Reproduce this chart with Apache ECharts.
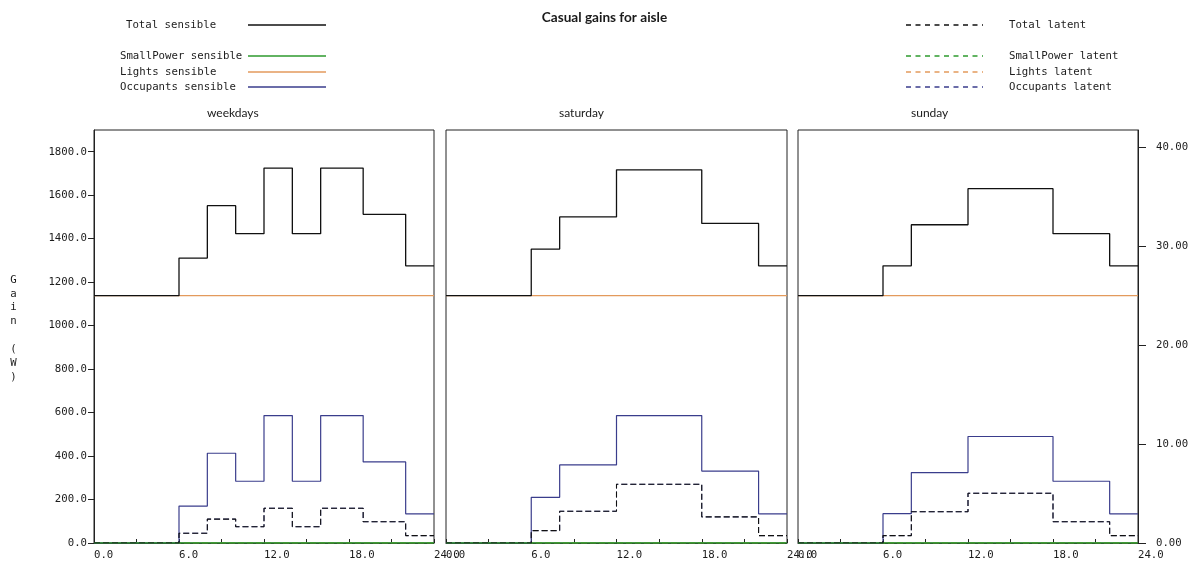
<!DOCTYPE html>
<html><head><meta charset="utf-8">
<script src="https://cdn.jsdelivr.net/npm/echarts@6/dist/echarts.min.js"></script>
<style>html,body{margin:0;padding:0;background:#fff}#c{width:1192px;height:565px}</style>
</head><body><div id="c"></div>
<script>
// ---------- data ----------
const chartTitle = 'Casual gains for aisle';
const dayNames = ['weekdays', 'saturday', 'sunday'];
const yTickValues = [0, 200, 400, 600, 800, 1000, 1200, 1400, 1600, 1800];
const rightTickValues = [0, 10, 20, 30, 40];
const xTickValues = [0, 3, 6, 9, 12, 15, 18, 21, 24];
const xLabelValues = [0, 6, 12, 18, 24];

// period start hours (last entry = end of day)
const weekdayHours = [0, 6, 8, 10, 12, 14, 16, 19, 22, 24];
const weekdayTotalSensible = [1138, 1311, 1552, 1423, 1725, 1423, 1725, 1512, 1275];
const weekdayOccSensible = [0, 170, 413, 284, 586, 284, 586, 373, 134];
const weekdayLightsSensible = [1138, 1138, 1138, 1138, 1138, 1138, 1138, 1138, 1138];
const weekdayPowerSensible = [0, 0, 0, 0, 0, 0, 0, 0, 0];
const weekdayTotalLatent = [0, 45, 110, 75, 160, 75, 160, 98, 34];
const weekdayOccLatent = [0, 45, 110, 75, 160, 75, 160, 98, 34];
const weekdayLightsLatent = [0, 0, 0, 0, 0, 0, 0, 0, 0];
const weekdayPowerLatent = [0, 0, 0, 0, 0, 0, 0, 0, 0];

const saturdayHours = [0, 6, 8, 12, 18, 22, 24];
const saturdayTotalSensible = [1138, 1352, 1500, 1717, 1470, 1275];
const saturdayOccSensible = [0, 210, 359, 586, 331, 134];
const saturdayLightsSensible = [1138, 1138, 1138, 1138, 1138, 1138];
const saturdayPowerSensible = [0, 0, 0, 0, 0, 0];
const saturdayTotalLatent = [0, 57, 146, 270, 120, 34];
const saturdayOccLatent = [0, 57, 146, 270, 120, 34];
const saturdayLightsLatent = [0, 0, 0, 0, 0, 0];
const saturdayPowerLatent = [0, 0, 0, 0, 0, 0];

const sundayHours = [0, 6, 8, 12, 18, 22, 24];
const sundayTotalSensible = [1138, 1275, 1464, 1630, 1423, 1275];
const sundayOccSensible = [0, 135, 324, 490, 284, 134];
const sundayLightsSensible = [1138, 1138, 1138, 1138, 1138, 1138];
const sundayPowerSensible = [0, 0, 0, 0, 0, 0];
const sundayTotalLatent = [0, 34, 144, 229, 98, 34];
const sundayOccLatent = [0, 34, 144, 229, 98, 34];
const sundayLightsLatent = [0, 0, 0, 0, 0, 0];
const sundayPowerLatent = [0, 0, 0, 0, 0, 0];

// ---------- styling ----------
const C_BLACK = '#111111', C_GREEN = '#2e9a2e', C_ORANGE = '#e39a5c', C_NAVY = '#3a3d8c';
const MONO = 'DejaVu Sans Mono';
const TXT = '#1c1c1c';

const days = [
  {hours: weekdayHours, ts: weekdayTotalSensible, os: weekdayOccSensible, ls: weekdayLightsSensible, ps: weekdayPowerSensible,
   tl: weekdayTotalLatent, ol: weekdayOccLatent, ll: weekdayLightsLatent, pl: weekdayPowerLatent},
  {hours: saturdayHours, ts: saturdayTotalSensible, os: saturdayOccSensible, ls: saturdayLightsSensible, ps: saturdayPowerSensible,
   tl: saturdayTotalLatent, ol: saturdayOccLatent, ll: saturdayLightsLatent, pl: saturdayPowerLatent},
  {hours: sundayHours, ts: sundayTotalSensible, os: sundayOccSensible, ls: sundayLightsSensible, ps: sundayPowerSensible,
   tl: sundayTotalLatent, ol: sundayOccLatent, ll: sundayLightsLatent, pl: sundayPowerLatent}
];

function steps(hours, vals) {
  const pts = vals.map((v, i) => [hours[i], v]);
  pts.push([hours[hours.length - 1], vals[vals.length - 1]]);
  return pts;
}

const gridLefts = [94, 446, 798];
const gridWidths = [340, 341, 340];
const grids = gridLefts.map((l, i) => ({
  left: l, width: gridWidths[i], top: 130, bottom: 22,
  show: true, borderColor: '#222', borderWidth: 1, backgroundColor: 'transparent'
}));

const xAxes = [0, 1, 2].map(i => ({
  type: 'value', gridIndex: i, min: 0, max: 24, interval: 3,
  axisLine: {show: true, onZero: false, lineStyle: {color: '#222', width: 1}},
  axisTick: {show: true, inside: true, length: 4, customValues: xTickValues, lineStyle: {color: '#222'}},
  axisLabel: {customValues: xLabelValues, formatter: v => v.toFixed(1), align: 'left', margin: 7,
    fontFamily: MONO, fontSize: 10.7, color: TXT},
  splitLine: {show: false}
}));

const yAxes = [0, 1, 2].map(i => ({
  type: 'value', gridIndex: i, min: 0, max: 1900, interval: 200, position: 'left',
  axisLine: {show: i === 0, lineStyle: {color: '#222'}},
  axisTick: {show: i === 0, length: 6, customValues: yTickValues, lineStyle: {color: '#222'}},
  axisLabel: {show: i === 0, customValues: yTickValues, formatter: v => v.toFixed(1), margin: 7,
    fontFamily: MONO, fontSize: 10.7, color: TXT},
  splitLine: {show: false}
}));
yAxes.push({
  type: 'value', gridIndex: 2, min: 0, max: 41.7, interval: 10, position: 'right',
  axisLine: {show: true, lineStyle: {color: '#222'}},
  axisTick: {show: true, length: 8, customValues: rightTickValues, lineStyle: {color: '#222'}},
  axisLabel: {customValues: rightTickValues, formatter: v => v.toFixed(2), margin: 18,
    fontFamily: MONO, fontSize: 10.7, color: TXT},
  splitLine: {show: false}
});

const series = [];
days.forEach((d, i) => {
  const mk = (name, vals, color, dashed, w) => ({
    name, type: 'line', xAxisIndex: i, yAxisIndex: i, step: 'end', symbol: 'none',
    animation: false, silent: true,
    lineStyle: {color, width: w || 1, type: dashed ? [6, 3] : 'solid'},
    data: steps(d.hours, vals)
  });
  series.push(mk('Lights latent', d.ll, C_ORANGE, true));
  series.push(mk('SmallPower latent', d.pl, C_GREEN, true));
  series.push(mk('Occupants sensible', d.os, C_NAVY, false, 1.2));
  series.push(mk('Occupants latent', d.ol, C_NAVY, true));
  series.push(mk('Lights sensible', d.ls, C_ORANGE, false, 1.4));
  series.push(mk('SmallPower sensible', d.ps, C_GREEN, false, 1.6));
  series.push(mk('Total sensible', d.ts, C_BLACK, false, 1.3));
  series.push(mk('Total latent', d.tl, C_BLACK, true, 1.1));
});

// ---------- legend & labels as graphics ----------
const graphics = [];
function legendLine(x1, x2, y, color, dashed) {
  graphics.push({type: 'line', shape: {x1, y1: y, x2, y2: y}, silent: true,
    style: {stroke: color, lineWidth: 1.3, lineDash: dashed ? [5, 4.5] : null}});
}
function txt(x, y, text, opts) {
  graphics.push({type: 'text', x, y, silent: true, style: Object.assign({
    text, fill: TXT, font: '10.7px "' + MONO + '"', textAlign: 'left', textVerticalAlign: 'middle'}, opts || {})});
}
const leftLegend = [['Total sensible', 126, 25, C_BLACK], ['SmallPower sensible', 120, 56, C_GREEN],
  ['Lights sensible', 120, 72, C_ORANGE], ['Occupants sensible', 120, 87, C_NAVY]];
leftLegend.forEach(([t, x, y, c]) => { txt(x, y, t); legendLine(248, 326, y, c, false); });
const rightLegend = [['Total latent', 25, C_BLACK], ['SmallPower latent', 56, C_GREEN],
  ['Lights latent', 72, C_ORANGE], ['Occupants latent', 87, C_NAVY]];
rightLegend.forEach(([t, y, c]) => { txt(1009, y, t); legendLine(906, 983, y, c, true); });

txt(604.5, 18, chartTitle, {textAlign: 'center', font: 'bold 13.6px Lato', fill: '#1a1a1a'});
dayNames.forEach((n, i) => txt(gridLefts[i] + 113, 113, n, {font: '12px Lato', fill: '#1a1a1a'}));
txt(13.5, 328.5, 'G\na\ni\nn\n \n(\nW\n)', {textAlign: 'center', lineHeight: 13.9});

const chart = echarts.init(document.getElementById('c'), null, {renderer: 'canvas'});
chart.setOption({
  animation: false,
  backgroundColor: '#ffffff',
  grid: grids, xAxis: xAxes, yAxis: yAxes, series,
  graphic: graphics
});
</script></body></html>
